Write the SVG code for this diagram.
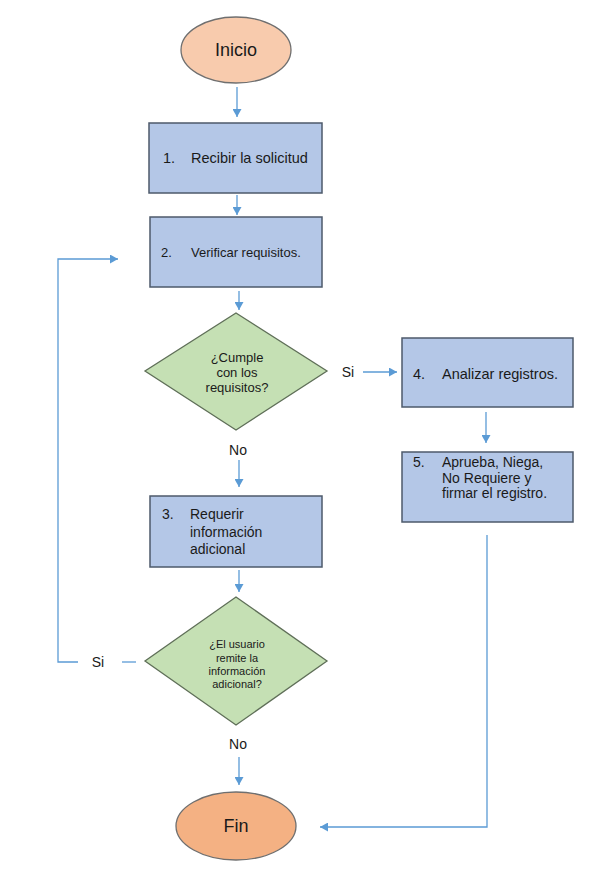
<svg xmlns="http://www.w3.org/2000/svg" width="594" height="873" viewBox="0 0 594 873">
<defs>
<marker id="ah" markerUnits="userSpaceOnUse" markerWidth="9" markerHeight="9" refX="8" refY="4.5" orient="auto">
<path d="M0,0 L8,4.5 L0,9 z" fill="#5B9BD5"/>
</marker>
<style>
.t{font-family:"Liberation Sans",Arial,sans-serif;fill:#1a1a1a;}
.box{fill:#B4C7E7;stroke:#4d5a6b;stroke-width:1.5;}
.dia{fill:#C5E0B4;stroke:#5f6f58;stroke-width:1.3;}
.c{stroke:#5B9BD5;stroke-width:1.3;fill:none;}
.a{marker-end:url(#ah);}
</style>
</defs>
<rect width="594" height="873" fill="#ffffff"/>
<g id="connectors">
<line class="c a" x1="237" y1="87" x2="237" y2="117"/>
<line class="c a" x1="237" y1="195" x2="237" y2="215"/>
<line class="c a" x1="239" y1="291" x2="239" y2="310"/>
<line class="c a" x1="363" y1="372" x2="397" y2="372"/>
<line class="c a" x1="486" y1="412" x2="486" y2="443"/>
<line class="c a" x1="239" y1="460" x2="239" y2="487"/>
<line class="c a" x1="239" y1="570" x2="239" y2="592"/>
<line class="c a" x1="239" y1="757" x2="239" y2="785"/>
<path class="c a" d="M487,535 L487,827 L320,827"/>
<path class="c" d="M122,662 L136,662"/>
<path class="c a" d="M78,662 L58,662 L58,259 L118,259"/>
<text class="t" x="98" y="667" font-size="14" text-anchor="middle">Si</text>
<text class="t" x="348" y="377" font-size="14" text-anchor="middle">Si</text>
<text class="t" x="238" y="455" font-size="14" text-anchor="middle">No</text>
<text class="t" x="238" y="749" font-size="14" text-anchor="middle">No</text>
</g>
<g id="inicio">
<ellipse cx="236" cy="50" rx="55" ry="33" fill="#F8CBAD" stroke="#6f6f6f" stroke-width="1.3"/>
<text class="t" x="236" y="56" font-size="18" text-anchor="middle">Inicio</text>
</g>
<g id="n1">
<rect class="box" x="149" y="123" width="173" height="70"/>
<text class="t" x="163" y="163" font-size="14.5">1.</text>
<text class="t" x="191" y="163" font-size="14.5">Recibir la solicitud</text>
</g>
<g id="n2">
<rect class="box" x="150" y="217" width="172" height="70"/>
<text class="t" x="161" y="257" font-size="13">2.</text>
<text class="t" x="191" y="257" font-size="13">Verificar requisitos.</text>
</g>
<g id="d1">
<polygon class="dia" points="236,313 327,371 236,430 145,371"/>
<text class="t" x="237" y="362" font-size="13" text-anchor="middle">¿Cumple</text>
<text class="t" x="237" y="377" font-size="13" text-anchor="middle">con los</text>
<text class="t" x="237" y="392" font-size="13" text-anchor="middle">requisitos?</text>
</g>
<g id="n4">
<rect class="box" x="402" y="338" width="171" height="69"/>
<text class="t" x="413" y="379" font-size="14.5">4.</text>
<text class="t" x="442" y="379" font-size="14.5">Analizar registros.</text>
</g>
<g id="n5">
<rect class="box" x="402" y="452" width="171" height="70"/>
<text class="t" x="413" y="467" font-size="14">5.</text>
<text class="t" x="442" y="467" font-size="14">Aprueba, Niega,</text>
<text class="t" x="442" y="483" font-size="14">No Requiere y</text>
<text class="t" x="442" y="498" font-size="14">firmar el registro.</text>
</g>
<g id="n3">
<rect class="box" x="150" y="496" width="172" height="71"/>
<text class="t" x="162" y="519" font-size="14">3.</text>
<text class="t" x="190" y="519" font-size="14">Requerir</text>
<text class="t" x="190" y="537" font-size="14">información</text>
<text class="t" x="190" y="554" font-size="14">adicional</text>
</g>
<g id="d2">
<polygon class="dia" points="236,597 327,661 236,725 145,661"/>
<text class="t" x="237" y="648" font-size="11" text-anchor="middle">¿El usuario</text>
<text class="t" x="237" y="662" font-size="11" text-anchor="middle">remite la</text>
<text class="t" x="237" y="675" font-size="11" text-anchor="middle">información</text>
<text class="t" x="237" y="688" font-size="11" text-anchor="middle">adicional?</text>
</g>
<g id="fin">
<ellipse cx="236" cy="826" rx="60" ry="34" fill="#F4B183" stroke="#6f6f6f" stroke-width="1.3"/>
<text class="t" x="236" y="832" font-size="18" text-anchor="middle">Fin</text>
</g>
</svg>
